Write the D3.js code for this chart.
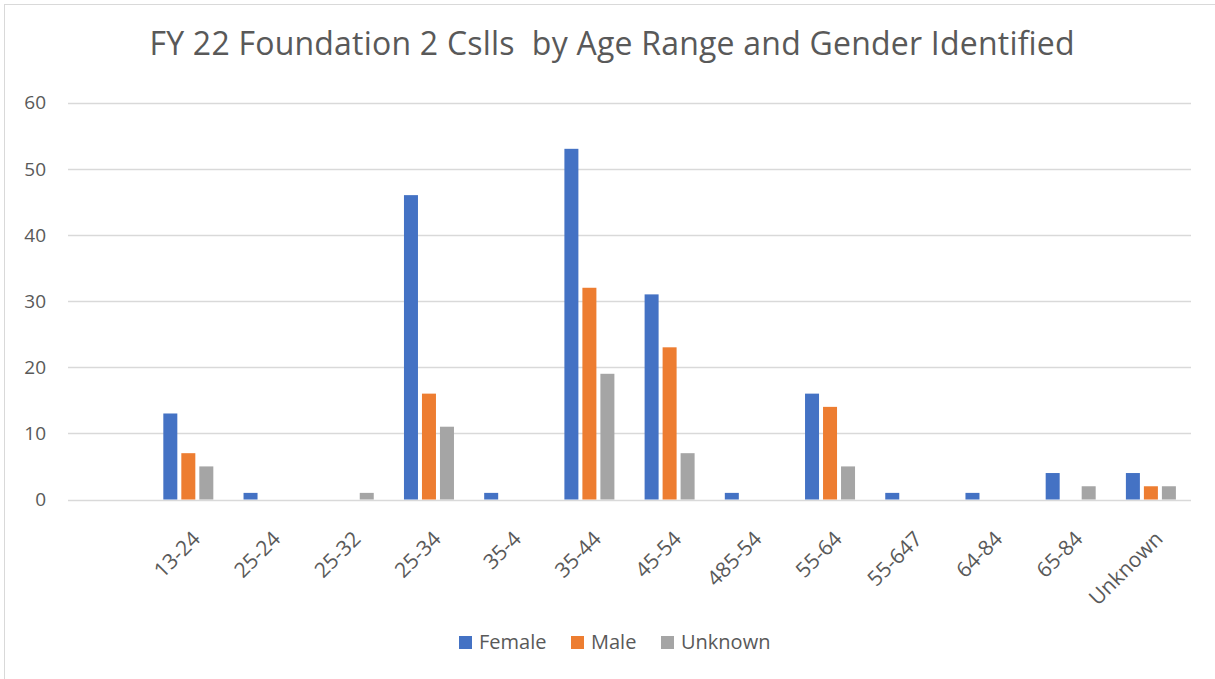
<!DOCTYPE html>
<html><head><meta charset="utf-8">
<script src="https://cdn.jsdelivr.net/npm/d3@7"></script>
<style>
html,body{margin:0;padding:0;background:#fff;}
svg text{font-family:"Open Sans","Liberation Sans",sans-serif;fill:#595959;white-space:pre;}
</style></head>
<body><svg id="c" width="1215" height="679"></svg>
<script>
const categories = ["", "13-24", "25-24", "25-32", "25-34", "35-4", "35-44", "45-54", "485-54", "55-64", "55-647", "64-84", "65-84", "Unknown"];
const female  = [null, 13, 1, 0, 46, 1, 53, 31, 1, 16, 1, 1, 4, 4];
const male    = [null, 7, 0, 0, 16, 0, 32, 23, 0, 14, 0, 0, 0, 2];
const unknown = [null, 5, 0, 1, 11, 0, 19, 7, 0, 5, 0, 0, 2, 2];
const seriesNames = ["Female", "Male", "Unknown"];
const colors = ["#4472C4", "#ED7D31", "#A5A5A5"];
const yTicks = [0, 10, 20, 30, 40, 50, 60];
const title = "FY 22 Foundation 2 Cslls  by Age Range and Gender Identified";

const seriesVals = [female, male, unknown];
const svg = d3.select("#c");
const W = 1215, H = 679;

// border
svg.append("rect").attr("x", 4.5).attr("y", 4.5).attr("width", W + 10).attr("height", H + 10)
  .attr("fill", "none").attr("stroke", "#D9D9D9").attr("stroke-width", 1);

const x0 = d3.scaleBand().domain(categories.map((d, i) => i)).range([68, 1191]).padding(0);
const y = d3.scaleLinear().domain([0, 60]).range([499.5, 102.5]);

// gridlines
svg.append("g").selectAll("line").data(yTicks).join("line")
  .attr("x1", 68).attr("x2", 1191)
  .attr("y1", d => Math.round(y(d)) + 0.5).attr("y2", d => Math.round(y(d)) + 0.5)
  .attr("stroke", "#D9D9D9").attr("stroke-width", 1.3);

// y labels
svg.append("g").selectAll("text").data(yTicks).join("text")
  .attr("x", 46).attr("y", d => y(d)).attr("dy", "0.36em")
  .attr("text-anchor", "end").attr("font-size", 19).text(d => d);

// bars
const bw = 14, gap = 4;
const groupW = bw * 3 + gap * 2;
const offs = d3.scaleBand().domain([0, 1, 2]).range([0, groupW]).paddingInner(gap / (bw + gap));
seriesVals.forEach((vals, s) => {
  svg.append("g").selectAll("rect").data(vals.map((v, i) => ({v, i})).filter(d => d.v))
    .join("rect")
    .attr("x", d => x0(d.i) + x0.bandwidth() / 2 - groupW / 2 + offs(s))
    .attr("width", offs.bandwidth())
    .attr("y", d => y(d.v))
    .attr("height", d => y(0) - y(d.v))
    .attr("fill", colors[s]);
});

// x labels
svg.append("g").selectAll("text").data(categories.map((c, i) => ({c, i})).filter(d => d.c))
  .join("text")
  .attr("transform", d => `translate(${x0(d.i) + x0.bandwidth() / 2 + 8},${535}) rotate(-45)`)
  .attr("text-anchor", "end").attr("dy", "0.35em").attr("font-size", 21).text(d => d.c);

// title
svg.append("text").attr("x", 612).attr("y", 55).attr("text-anchor", "middle")
  .attr("font-size", 32).attr("textLength", 925).attr("lengthAdjust", "spacing").text(title);

// legend
const legX = [459, 571, 661];
seriesNames.forEach((n, s) => {
  svg.append("rect").attr("x", legX[s]).attr("y", 636).attr("width", 13).attr("height", 13).attr("fill", colors[s]);
  svg.append("text").attr("x", legX[s] + 20).attr("y", 649).attr("font-size", 20).text(n);
});
</script></body></html>
